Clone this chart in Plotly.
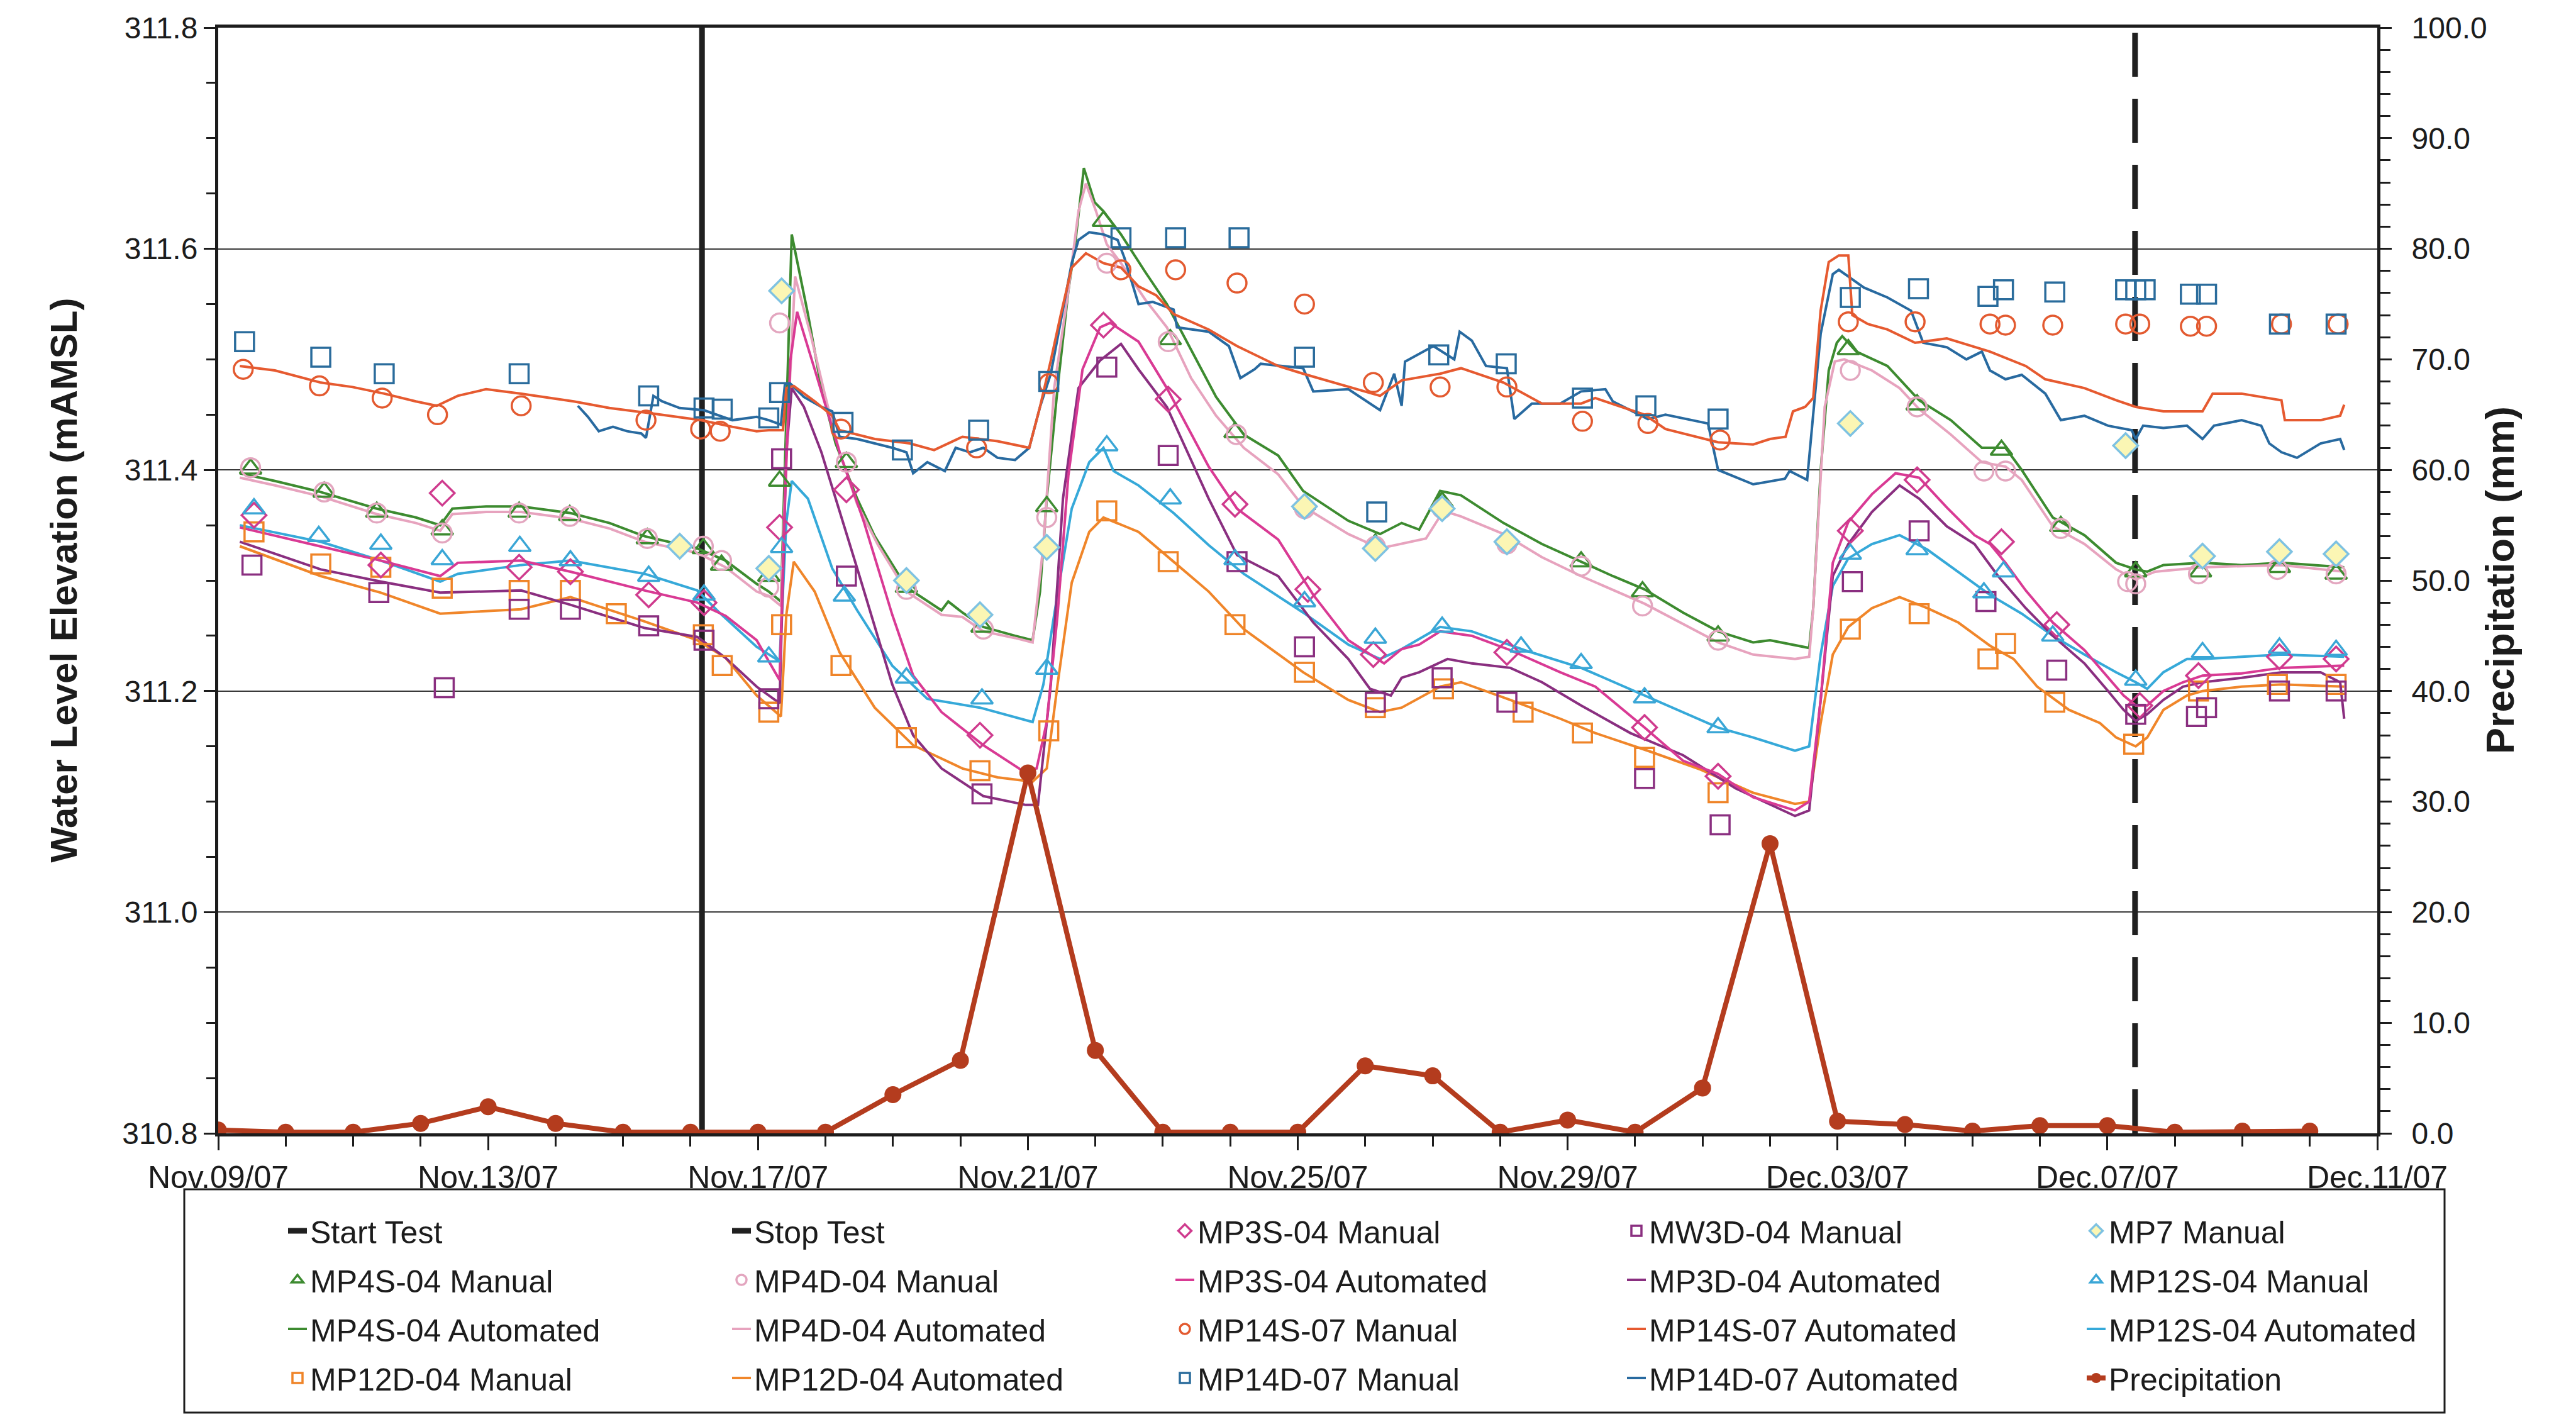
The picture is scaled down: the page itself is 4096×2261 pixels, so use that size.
import pandas as pd
import plotly.graph_objects as go

# ---------------------------------------------------------------------------
# Water level monitoring during the pumping test, Nov 9 - Dec 11, 2007
# Times are given as days after 2007-11-09 00:00.
# ---------------------------------------------------------------------------
BASE = pd.Timestamp("2007-11-09")

start_test_day = 7.17
stop_test_day = 28.41

# Daily precipitation (mm), Nov 09 .. Dec 10
precip_days = list(range(32))
precip_mm = [0.3, 0.1, 0.1, 0.9, 2.4, 0.9, 0.1, 0.1, 0.1, 0.1, 3.5, 6.6, 32.6, 7.5, 0.1, 0.1,
             0.1, 6.1, 5.2, 0.1, 1.2, 0.1, 4.1, 26.2, 1.1, 0.8, 0.2, 0.7, 0.7, 0.1, 0.2, 0.2]

# ---- automated (logger) records -------------------------------------------
mp4s_auto_days = [0.32, 0.84, 1.52, 2.35, 2.93, 3.29, 3.47, 3.97, 4.49, 5.22, 5.8, 6.32, 7.1, 7.52, 7.98,
                  8.16, 8.34, 8.42, 8.5, 8.74, 8.94, 9.15, 9.47, 9.73, 10.2, 10.72, 10.82, 11.03, 11.34, 11.81,
                  12.07, 12.18, 12.28, 12.44, 12.6, 12.7, 12.83, 12.99, 13.12, 13.38, 13.74, 14.06, 14.42, 14.79, 15.2,
                  15.71, 16.08, 16.75, 17.22, 17.54, 17.8, 18.11, 18.42, 19.05, 19.62, 20.2, 20.67, 21.14, 21.71, 22.23,
                  22.75, 23.0, 23.58, 23.64, 23.75, 23.87, 23.99, 24.07, 24.28, 24.74, 25.21, 25.68, 26.14, 26.49,
                  26.73, 27.19, 27.66, 28.13, 28.42, 28.59, 28.83, 29.41, 29.99, 30.58, 31.51]
mp4s_auto_elev = [311.397, 311.39, 311.38, 311.365, 311.357, 311.35, 311.365, 311.367, 311.367, 311.361, 311.352,
                  311.34, 311.329, 311.318, 311.297,
                  311.29, 311.281, 311.457, 311.613, 311.541, 311.474, 311.424, 311.374, 311.34, 311.294, 311.273,
                  311.281, 311.271, 311.258, 311.25, 311.246, 311.29, 311.374, 311.474, 311.562, 311.604, 311.673,
                  311.642, 311.634, 311.613, 311.579, 311.55, 311.508, 311.466, 311.432,
                  311.413, 311.381, 311.354, 311.342, 311.352, 311.346, 311.381, 311.377, 311.352, 311.333, 311.317,
                  311.304, 311.292, 311.271, 311.254, 311.244,
                  311.246, 311.239, 311.275, 311.399, 311.49, 311.515, 311.521, 311.507, 311.494, 311.463, 311.445,
                  311.42, 311.42, 311.4, 311.357, 311.341, 311.316, 311.31, 311.308, 311.314, 311.316, 311.314,
                  311.316, 311.312]

mp4d_auto_days = [0.32, 0.84, 1.52, 2.35, 2.93, 3.29, 3.47, 3.97, 4.49, 5.22, 5.8, 6.32, 7.1, 7.52, 7.98,
                  8.16, 8.34, 8.42, 8.55, 8.79, 9.0, 9.21, 9.47, 9.78, 10.2, 10.72, 11.03, 11.34, 11.81, 12.07,
                  12.23, 12.39, 12.6, 12.75, 12.86, 13.01, 13.17, 13.38, 13.74, 14.06, 14.42, 14.79, 15.2,
                  15.71, 16.08, 16.75, 17.22, 17.54, 17.9, 18.16, 18.42, 19.05, 19.62, 20.2, 21.14, 22.23, 22.75,
                  23.37, 23.58, 23.64, 23.72, 23.81, 23.96, 24.1, 24.51, 24.92, 25.21, 25.68, 26.14, 26.49, 26.73,
                  27.19, 27.66, 28.13, 28.42, 28.71, 29.41, 30.58, 31.51]
mp4d_auto_elev = [311.393, 311.386, 311.376, 311.36, 311.352, 311.345, 311.36, 311.362, 311.362, 311.356, 311.347,
                  311.335, 311.325, 311.312, 311.29,
                  311.286, 311.277, 311.416, 311.575, 311.52, 311.466, 311.416, 311.369, 311.332, 311.29, 311.269,
                  311.267, 311.254, 311.248, 311.244, 311.332, 311.474, 311.562, 311.634, 311.659, 311.634, 311.604,
                  311.587, 311.554, 311.529, 311.483, 311.449, 311.42,
                  311.396, 311.367, 311.342, 311.329, 311.333, 311.338, 311.363, 311.358, 311.342, 311.321, 311.304,
                  311.279, 311.244, 311.233, 311.229,
                  311.231, 311.275, 311.357, 311.457, 311.498, 311.5, 311.49, 311.474, 311.455, 311.432, 311.407,
                  311.403, 311.391, 311.349, 311.333, 311.31, 311.301, 311.308, 311.312, 311.314, 311.308]

mp3s_auto_days = [0.32, 1.52, 2.41, 3.29, 3.55, 4.49, 5.22, 6.32, 7.1, 7.52, 7.98,
                  8.32, 8.4, 8.48, 8.58, 8.84, 9.21, 9.57, 9.99, 10.3, 10.72, 11.34, 11.92, 12.13, 12.28, 12.44,
                  12.6, 12.81, 13.07, 13.22, 13.64, 14.06, 14.68, 15.1,
                  15.71, 16.23, 16.75, 17.28, 17.54, 17.8, 18.11, 18.58, 19.15, 19.89, 20.41, 21.14, 21.71, 22.23,
                  22.75, 23.37, 23.58, 23.75, 23.93, 24.16, 24.51, 24.86, 25.21, 25.62, 26.03, 26.26, 26.49, 26.79,
                  27.19, 27.66, 28.01, 28.24, 28.42, 28.59, 28.83, 29.12, 29.41, 29.99, 30.58, 31.51]
mp3s_auto_elev = [311.348, 311.331, 311.318, 311.304, 311.316, 311.318, 311.308, 311.291, 311.28, 311.268, 311.246,
                  311.21, 311.374, 311.499, 311.543, 311.491, 311.416, 311.353, 311.269, 311.214, 311.181, 311.151,
                  311.128, 311.13, 311.172, 311.269, 311.395, 311.491, 311.529, 311.533, 311.516, 311.474, 311.403,
                  311.365,
                  311.337, 311.287, 311.246, 311.225, 311.238, 311.242, 311.254, 311.25, 311.237, 311.217, 311.204,
                  311.167, 311.137, 311.125, 311.104, 311.092, 311.1, 311.192, 311.316, 311.353, 311.378, 311.397,
                  311.393, 311.366, 311.341, 311.333, 311.316, 311.291, 311.262, 311.237, 311.212, 311.196, 311.187,
                  311.187, 311.2, 311.208, 311.214, 311.216, 311.221, 311.223]

mp3d_auto_days = [0.32, 1.52, 2.41, 3.29, 4.49, 5.22, 6.32, 7.1, 7.52, 7.98,
                  8.32, 8.42, 8.5, 8.68, 8.94, 9.47, 9.99, 10.3, 10.72, 11.34, 11.97, 12.15, 12.34, 12.52, 12.75,
                  13.07, 13.38, 13.64, 14.06, 14.68, 15.1,
                  15.71, 16.23, 16.75, 17.07, 17.38, 17.54, 17.8, 18.22, 18.58, 19.15, 19.62, 20.2, 20.93, 21.71,
                  22.49, 23.37, 23.58, 23.75, 23.93, 24.16, 24.51, 24.92, 25.21, 25.62, 26.03, 26.38, 26.79, 27.19,
                  27.66, 28.01, 28.24, 28.42, 28.59, 28.83, 29.12, 29.41, 29.99, 30.58, 31.16, 31.45, 31.51]
mp3d_auto_elev = [311.335, 311.31, 311.299, 311.289, 311.291, 311.278, 311.257, 311.249, 311.23, 311.204,
                  311.189, 311.416, 311.474, 311.457, 311.416, 311.311, 311.206, 311.16, 311.13, 311.105, 311.097,
                  311.097, 311.206, 311.374, 311.474, 311.499, 311.514, 311.491, 311.457, 311.374, 311.323,
                  311.304, 311.262, 311.229, 311.202, 311.196, 311.212, 311.217, 311.229, 311.225, 311.221, 311.208,
                  311.187, 311.162, 311.142, 311.112, 311.087, 311.092, 311.192, 311.304, 311.333, 311.362, 311.386,
                  311.374, 311.349, 311.333, 311.304, 311.275, 311.25, 311.225, 311.2, 311.183, 311.173, 311.179,
                  311.192, 311.204, 311.208, 311.212, 311.217, 311.217, 311.208, 311.175]

mp12s_auto_days = [0.32, 1.52, 2.41, 3.29, 3.55, 4.49, 5.22, 6.32, 7.1, 7.41, 7.98,
                   8.32, 8.42, 8.5, 8.74, 9.1, 9.47, 9.99, 10.51, 11.29, 12.07, 12.23, 12.39, 12.65, 12.91, 13.12,
                   13.27, 13.64, 14.16, 14.68, 15.2,
                   16.08, 16.75, 17.22, 17.54, 18.11, 18.58, 19.36, 20.2, 21.14, 22.23, 22.75, 23.37,
                   23.58, 23.75, 23.93, 24.16, 24.51, 24.92, 25.33, 25.79, 26.26, 26.73, 27.19, 27.66, 28.13, 28.42,
                   28.59, 28.83, 29.18, 29.41, 29.99, 30.58, 31.51]
mp12s_auto_elev = [311.35, 311.335, 311.318, 311.299, 311.306, 311.314, 311.318, 311.306, 311.291, 311.272, 311.24,
                   311.227, 311.353, 311.39, 311.374, 311.311, 311.273, 311.223, 311.193, 311.185, 311.172, 311.206,
                   311.269, 311.365, 311.407, 311.42, 311.399, 311.386, 311.361, 311.332, 311.306,
                   311.271, 311.242, 311.229, 311.238, 311.258, 311.254, 311.237, 311.221, 311.196, 311.167, 311.158,
                   311.146,
                   311.15, 311.233, 311.295, 311.32, 311.333, 311.341, 311.328, 311.308, 311.287, 311.27, 311.25,
                   311.233, 311.217, 311.208, 311.202, 311.217, 311.229, 311.229, 311.231, 311.233, 311.231]

mp12d_auto_days = [0.32, 1.52, 2.41, 3.29, 4.49, 5.22, 6.32, 7.1, 7.52, 7.98,
                   8.34, 8.42, 8.53, 8.84, 9.21, 9.73, 10.3, 11.03, 11.55, 12.07, 12.28, 12.44, 12.65, 12.91, 13.12,
                   13.64, 14.16, 14.68, 15.2,
                   15.71, 16.08, 16.75, 17.22, 17.54, 18.11, 18.42, 19.15, 19.89, 20.41, 21.19, 21.97, 22.75, 23.37,
                   23.58, 23.75, 23.93, 24.16, 24.51, 24.92, 25.33, 25.79, 26.26, 26.61, 26.96, 27.43, 27.89, 28.13,
                   28.42, 28.59, 28.83, 29.18, 29.41, 29.99, 30.58, 31.51]
mp12d_auto_elev = [311.331, 311.304, 311.289, 311.27, 311.274, 311.285, 311.263, 311.246, 311.23, 311.196,
                   311.177, 311.269, 311.317, 311.29, 311.235, 311.185, 311.151, 311.13, 311.122, 311.118, 311.13,
                   311.206, 311.298, 311.344, 311.357, 311.344, 311.317, 311.29, 311.256,
                   311.233, 311.217, 311.192, 311.181, 311.185, 311.204, 311.208, 311.192, 311.175, 311.162, 311.146,
                   311.129, 311.108, 311.098,
                   311.1, 311.171, 311.233, 311.258, 311.275, 311.285, 311.275, 311.262, 311.241, 311.229, 311.204,
                   311.183, 311.171, 311.158, 311.15, 311.158, 311.183, 311.196, 311.2, 311.204, 311.206, 311.204]

mp14s_auto_days = [0.32, 0.84, 1.52, 1.99, 2.46, 2.93, 3.24, 3.55, 3.97, 4.49, 5.27, 5.8, 6.32, 7.15, 7.62, 7.98,
                   8.16, 8.37, 8.42, 8.53, 8.84, 9.1, 9.21, 9.73, 10.25, 10.61, 11.03, 11.55, 12.02, 12.18, 12.34,
                   12.49, 12.65, 12.86, 13.12, 13.38, 13.64, 13.9, 14.16, 14.68, 15.1,
                   15.71, 16.08, 16.75, 17.22, 17.54, 18.11, 18.42, 19.05, 19.62, 20.2, 20.41, 21.14, 21.45, 22.23,
                   22.75, 23.0, 23.23, 23.34, 23.52, 23.64, 23.75, 23.87, 24.02, 24.16, 24.22, 24.45, 24.74, 25.15,
                   25.62, 26.26, 26.79, 27.08, 27.66, 28.13, 28.42, 28.83, 29.41, 29.56, 29.99, 30.58, 30.63, 31.16,
                   31.45, 31.51]
mp14s_auto_elev = [311.494, 311.49, 311.479, 311.475, 311.469, 311.462, 311.458, 311.467, 311.473, 311.469,
                   311.462, 311.456, 311.452, 311.445, 311.439, 311.435,
                   311.436, 311.436, 311.474, 311.476, 311.462, 311.449, 311.436, 311.428, 311.424, 311.418, 311.43,
                   311.426, 311.42, 311.457, 311.499, 311.541, 311.583, 311.596, 311.587, 311.583, 311.566, 311.558,
                   311.541, 311.527, 311.512,
                   311.494, 311.487, 311.475, 311.467, 311.481, 311.487, 311.492, 311.479, 311.46, 311.46, 311.465,
                   311.45, 311.437, 311.425, 311.423, 311.428, 311.43, 311.453, 311.457, 311.465, 311.544, 311.588,
                   311.594, 311.594, 311.54, 311.532, 311.527, 311.515, 311.519, 311.507, 311.494, 311.482, 311.474,
                   311.463, 311.457, 311.453, 311.453, 311.469, 311.469, 311.463, 311.445, 311.445, 311.449, 311.459]

mp14d_auto_days = [5.33, 5.48, 5.64, 5.85, 6.06, 6.27, 6.34, 6.45, 6.58, 6.84, 7.2, 7.62, 7.98,
                   8.16, 8.34, 8.4, 8.48, 8.68, 8.94, 9.1, 9.21, 9.47, 9.99, 10.2, 10.3, 10.51, 10.77, 10.93, 11.14,
                   11.34, 11.55, 11.81, 12.02, 12.18, 12.34, 12.54, 12.65, 12.75, 12.91, 13.12, 13.33, 13.43, 13.64,
                   13.85, 14.16, 14.21, 14.68, 14.98, 15.15, 15.36,
                   15.45, 16.08, 16.23, 16.75, 17.22, 17.43, 17.54, 17.59, 18.01, 18.32, 18.4, 18.58, 18.79, 19.1,
                   19.21, 19.47, 19.89, 20.2, 20.56, 20.67, 21.19, 21.45, 22.08, 22.23, 22.75, 23.22,
                   23.29, 23.55, 23.64, 23.75, 23.93, 24.02, 24.16, 24.39, 24.74, 25.09, 25.27, 25.62, 25.91, 26.14,
                   26.26, 26.49, 26.73, 27.08, 27.31, 27.66, 28.01, 28.36, 28.42, 28.53, 28.83, 29.18, 29.41, 29.58,
                   29.99, 30.28, 30.4, 30.58, 30.81, 31.16, 31.45, 31.51]
mp14d_auto_elev = [311.458, 311.448, 311.435, 311.439, 311.435, 311.433, 311.429, 311.467, 311.462, 311.456,
                   311.454, 311.445, 311.448,
                   311.445, 311.441, 311.478, 311.478, 311.466, 311.457, 311.453, 311.43, 311.428, 311.42, 311.416,
                   311.397, 311.407, 311.399, 311.42, 311.416, 311.42, 311.411, 311.409, 311.42, 311.457, 311.487,
                   311.55, 311.587, 311.608, 311.615, 311.613, 311.608, 311.592, 311.55, 311.552, 311.545, 311.529,
                   311.525, 311.512, 311.483, 311.491,
                   311.496, 311.492, 311.471, 311.473, 311.454, 311.487, 311.458, 311.498, 311.512, 311.5, 311.525,
                   311.517, 311.494, 311.492, 311.446, 311.46, 311.46, 311.471, 311.473, 311.462, 311.446, 311.45,
                   311.442, 311.4, 311.387, 311.392,
                   311.399, 311.391, 311.449, 311.523, 311.577, 311.581, 311.575, 311.565, 311.556, 311.544, 311.515,
                   311.511, 311.5, 311.507, 311.49, 311.482, 311.486, 311.469, 311.445, 311.449, 311.44, 311.436,
                   311.428, 311.44, 311.438, 311.44, 311.428, 311.44, 311.445, 311.44, 311.424, 311.416, 311.411,
                   311.424, 311.428, 311.418]

# ---- manual (dip-meter) readings --------------------------------------------
mp4s_man_days = [0.48, 1.57, 2.35, 3.32, 4.46, 5.21, 6.36, 7.19, 7.46, 8.16, 8.32, 9.31, 10.2, 11.32, 12.28,
                 13.12, 14.11, 15.07, 16.1, 17.15, 18.14, 19.1, 20.2, 21.11, 22.23, 24.16, 25.18, 26.43, 27.31,
                 28.42, 29.38, 30.55, 31.39]
mp4s_man_elev = [311.401, 311.38, 311.362, 311.346, 311.362, 311.359, 311.338, 311.329, 311.314, 311.304, 311.39,
                 311.407, 311.294, 311.258, 311.367, 311.625, 311.518, 311.434, 311.369, 311.333, 311.371, 311.337,
                 311.317, 311.29, 311.25, 311.509, 311.459, 311.418, 311.349, 311.308, 311.308, 311.312, 311.306]

mp4d_man_days = [0.48, 1.57, 2.35, 3.32, 4.46, 5.21, 6.36, 7.19, 7.46, 8.16, 8.32, 9.31, 10.2, 11.34, 12.28,
                 13.17, 14.08, 15.09, 16.1, 17.15, 18.14, 19.1, 20.2, 21.11, 22.23, 24.19, 25.18, 26.17, 26.49,
                 27.31, 28.3, 28.42, 29.35, 30.52, 31.39]
mp4d_man_elev = [311.402, 311.38, 311.361, 311.343, 311.361, 311.358, 311.338, 311.331, 311.318, 311.294, 311.533,
                 311.407, 311.292, 311.256, 311.357, 311.587, 311.516, 311.432, 311.365, 311.331, 311.365, 311.333,
                 311.313, 311.277, 311.246, 311.49, 311.457, 311.399, 311.399, 311.347, 311.299, 311.297, 311.306,
                 311.31, 311.306]

mp12d_man_days = [0.53, 1.52, 2.41, 3.32, 4.46, 5.22, 5.9, 7.19, 7.47, 8.16, 8.35, 9.23, 10.2, 11.29, 12.31,
                  13.17, 14.08, 15.07, 16.1, 17.15, 18.16, 19.34, 20.22, 21.14, 22.23, 24.19, 25.21, 26.23, 26.49,
                  27.22, 28.39, 29.35, 30.52, 31.39]
mp12d_man_elev = [311.344, 311.315, 311.312, 311.293, 311.291, 311.291, 311.27, 311.251, 311.223, 311.181, 311.26,
                  311.223, 311.158, 311.128, 311.164, 311.363, 311.317, 311.26, 311.217, 311.185, 311.202, 311.181,
                  311.162, 311.14, 311.108, 311.256, 311.27, 311.229, 311.243, 311.19, 311.152, 311.2, 311.206,
                  311.206]

mp3s_man_days = [0.53, 2.41, 3.32, 4.46, 5.22, 6.38, 7.2, 8.32, 9.31, 11.29, 13.12, 14.08, 15.07, 16.15, 17.12,
                 19.1, 21.14, 22.23, 24.19, 25.18, 26.43, 27.25, 28.48, 29.35, 30.55, 31.39]
mp3s_man_elev = [311.359, 311.314, 311.379, 311.312, 311.308, 311.287, 311.28, 311.348, 311.382, 311.16, 311.531,
                 311.464, 311.369, 311.292, 311.233, 311.235, 311.167, 311.123, 311.345, 311.391, 311.335, 311.26,
                 311.187, 311.214, 311.231, 311.229]

mp14s_man_days = [0.37, 1.5, 2.43, 3.25, 4.49, 6.34, 7.15, 7.44, 9.23, 11.24, 12.31, 13.38, 14.19, 15.1, 16.1,
                  17.12, 18.11, 19.1, 20.22, 21.19, 22.26, 24.16, 25.15, 26.26, 26.49, 27.19, 28.27, 28.48, 29.23,
                  29.47, 30.58, 31.42]
mp14s_man_elev = [311.491, 311.476, 311.465, 311.45, 311.458, 311.445, 311.437, 311.435, 311.437, 311.42, 311.478,
                  311.581, 311.581, 311.569, 311.55, 311.479, 311.475, 311.475, 311.444, 311.442, 311.427, 311.534,
                  311.534, 311.532, 311.531, 311.531, 311.532, 311.532, 311.53, 311.53, 311.532, 311.532]

mp14d_man_days = [0.39, 1.52, 2.46, 4.46, 6.38, 7.2, 7.47, 8.16, 8.32, 9.26, 10.14, 11.27, 12.31, 13.38, 14.19,
                  15.13, 16.1, 17.17, 18.09, 19.09, 20.22, 21.16, 22.23, 24.19, 25.2, 26.23, 26.46, 27.22, 28.27,
                  28.42, 28.56, 29.23, 29.47, 30.55, 31.39]
mp14d_man_elev = [311.516, 311.502, 311.487, 311.487, 311.467, 311.456, 311.455, 311.447, 311.47, 311.443, 311.418,
                  311.436, 311.48, 311.61, 311.61, 311.61, 311.502, 311.362, 311.504, 311.496, 311.465, 311.458,
                  311.446, 311.556, 311.564, 311.557, 311.563, 311.561, 311.563, 311.563, 311.563, 311.559, 311.559,
                  311.532, 311.532]

mw3d_man_days = [0.5, 2.38, 3.35, 4.46, 5.22, 6.38, 7.2, 8.16, 8.35, 9.31, 11.32, 13.17, 14.08, 15.1, 16.1,
                 17.15, 18.14, 19.1, 21.14, 22.26, 24.22, 25.21, 26.2, 27.25, 28.42, 29.32, 29.47, 30.55, 31.39]
mw3d_man_elev = [311.314, 311.289, 311.203, 311.274, 311.274, 311.259, 311.246, 311.193, 311.41, 311.304, 311.107,
                 311.493, 311.413, 311.317, 311.24, 311.19, 311.212, 311.19, 311.121, 311.079, 311.299, 311.345,
                 311.281, 311.219, 311.179, 311.177, 311.185, 311.2, 311.2]

mp7_man_days = [6.84, 8.16, 8.35, 10.2, 11.29, 12.28, 16.1, 17.15, 18.14, 19.1, 24.19, 28.27, 29.41, 30.55, 31.39]
mp7_man_elev = [311.331, 311.311, 311.562, 311.3, 311.269, 311.33, 311.367, 311.329, 311.365, 311.335, 311.442,
                311.422, 311.322, 311.326, 311.324]

mp12s_man_days = [0.53, 1.49, 2.41, 3.32, 4.47, 5.22, 6.38, 7.2, 8.16, 8.35, 9.28, 10.2, 11.32, 12.28, 13.17,
                  14.11, 15.07, 16.1, 17.15, 18.14, 19.31, 20.2, 21.14, 22.23, 24.19, 25.18, 26.17, 26.46, 27.19,
                  28.42, 29.41, 30.55, 31.39]
mp12s_man_elev = [311.365, 311.34, 311.333, 311.319, 311.331, 311.318, 311.304, 311.287, 311.231, 311.33, 311.286,
                  311.212, 311.193, 311.22, 311.422, 311.374, 311.319, 311.281, 311.248, 311.258, 311.24, 311.225,
                  311.194, 311.167, 311.324, 311.328, 311.289, 311.308, 311.25, 311.21, 311.235, 311.239, 311.237]

ELEV_RANGE = [310.8, 311.8]
PRECIP_RANGE = [0, 100]

FONT = "Liberation Sans, Arial, sans-serif"
INK = "#1c1c1c"

# figure geometry (px)
W, H = 4096, 2261
PLOT_L, PLOT_R, PLOT_T, PLOT_B = 347, 3780, 44, 1802
PW, PH = PLOT_R - PLOT_L, PLOT_B - PLOT_T


def px_x(px):
    return (px - PLOT_L) / PW


def px_y(py):
    return (PLOT_B - py) / PH


def when(days):
    return BASE + pd.to_timedelta(pd.Series(days, dtype=float), unit="D")


fig = go.Figure()

# legend column of each entry (five columns, four rows)
COLUMN = {
    "Start Test": "legend", "MP4S-04 Manual": "legend", "MP4S-04 Automated": "legend",
    "MP12D-04 Manual": "legend",
    "Stop Test": "legend2", "MP4D-04 Manual": "legend2", "MP4D-04 Automated": "legend2",
    "MP12D-04 Automated": "legend2",
    "MP3S-04 Manual": "legend3", "MP3S-04 Automated": "legend3", "MP14S-07 Manual": "legend3",
    "MP14D-07 Manual": "legend3",
    "MW3D-04 Manual": "legend4", "MP3D-04 Automated": "legend4", "MP14S-07 Automated": "legend4",
    "MP14D-07 Automated": "legend4",
    "MP7 Manual": "legend5", "MP12S-04 Manual": "legend5", "MP12S-04 Automated": "legend5",
    "Precipitation": "legend5",
}
ORDER = ["Start Test", "Stop Test", "MP3S-04 Manual", "MW3D-04 Manual", "MP7 Manual",
         "MP4S-04 Manual", "MP4D-04 Manual", "MP3S-04 Automated", "MP3D-04 Automated", "MP12S-04 Manual",
         "MP4S-04 Automated", "MP4D-04 Automated", "MP14S-07 Manual", "MP14S-07 Automated",
         "MP12S-04 Automated",
         "MP12D-04 Manual", "MP12D-04 Automated", "MP14D-07 Manual", "MP14D-07 Automated", "Precipitation"]


def entry(name):
    return dict(name=name, legend=COLUMN[name], legendgroup=name,
                legendrank=ORDER.index(name) + 1)


# Test start / stop markers
fig.add_trace(go.Scatter(
    x=when([start_test_day, start_test_day]), y=ELEV_RANGE, mode="lines",
    line=dict(color="#202020", width=9), **entry("Start Test")))
fig.add_trace(go.Scatter(
    x=when([stop_test_day, stop_test_day]), y=ELEV_RANGE, mode="lines",
    line=dict(color="#202020", width=9, dash="70px,35px"), **entry("Stop Test")))

# Automated records
auto_series = [
    ("MP4S-04 Automated", mp4s_auto_days, mp4s_auto_elev, "#3d8b30"),
    ("MP4D-04 Automated", mp4d_auto_days, mp4d_auto_elev, "#e7a3be"),
    ("MP12D-04 Automated", mp12d_auto_days, mp12d_auto_elev, "#f0862a"),
    ("MP12S-04 Automated", mp12s_auto_days, mp12s_auto_elev, "#36a9d9"),
    ("MP3D-04 Automated", mp3d_auto_days, mp3d_auto_elev, "#8a2f80"),
    ("MP3S-04 Automated", mp3s_auto_days, mp3s_auto_elev, "#d93a94"),
    ("MP14D-07 Automated", mp14d_auto_days, mp14d_auto_elev, "#286aa0"),
    ("MP14S-07 Automated", mp14s_auto_days, mp14s_auto_elev, "#e65a30"),
]
for name, d, v, color in auto_series:
    fig.add_trace(go.Scatter(x=when(d), y=v, mode="lines",
                             line=dict(color=color, width=4), **entry(name)))

# Manual readings
MS = 30
manual_series = [
    ("MP4S-04 Manual", mp4s_man_days, mp4s_man_elev, "triangle-up-open", "#3d8b30", None),
    ("MP4D-04 Manual", mp4d_man_days, mp4d_man_elev, "circle-open", "#e3a6bf", None),
    ("MP12D-04 Manual", mp12d_man_days, mp12d_man_elev, "square-open", "#ef8428", None),
    ("MP3S-04 Manual", mp3s_man_days, mp3s_man_elev, "diamond-open", "#cf3b8e", None),
    ("MP14S-07 Manual", mp14s_man_days, mp14s_man_elev, "circle-open", "#e35a30", None),
    ("MP14D-07 Manual", mp14d_man_days, mp14d_man_elev, "square-open", "#2a6c9c", None),
    ("MW3D-04 Manual", mw3d_man_days, mw3d_man_elev, "square-open", "#8a2f80", None),
    ("MP7 Manual", mp7_man_days, mp7_man_elev, "diamond", "#7ec2e2", "#fbf6b4"),
    ("MP12S-04 Manual", mp12s_man_days, mp12s_man_elev, "triangle-up-open", "#3aa6d6", None),
]
for name, d, v, symbol, color, fill in manual_series:
    marker = dict(symbol=symbol, size=MS, color=fill if fill else color,
                  line=dict(color=color, width=3.5))
    fig.add_trace(go.Scatter(x=when(d), y=v, mode="markers", marker=marker, **entry(name)))

# Precipitation on the secondary axis
fig.add_trace(go.Scatter(
    x=when(precip_days), y=precip_mm, mode="lines+markers", yaxis="y2",
    line=dict(color="#b43c1e", width=8),
    marker=dict(symbol="circle", size=27, color="#b43c1e"), **entry("Precipitation")))

axis_font = dict(family=FONT, size=48, color=INK)
x_font = dict(family=FONT, size=50, color=INK)

# five legend columns inside one framed box
LEG_TEXT_X = [496, 1202, 1907, 2625, 3356]
LEG_TOP = 1918
legend_common = dict(
    orientation="v", yanchor="top", xanchor="left",
    bgcolor="rgba(0,0,0,0)", borderwidth=0,
    font=dict(family=FONT, size=50, color=INK),
    itemwidth=30, traceorder="grouped", tracegroupgap=10,
)
legends = {}
for i, tx in enumerate(LEG_TEXT_X):
    key = "legend" if i == 0 else f"legend{i + 1}"
    legends[key] = dict(legend_common, x=px_x(tx - 43), y=px_y(LEG_TOP))

fig.update_layout(
    width=W, height=H,
    margin=dict(l=PLOT_L, r=W - PLOT_R, t=PLOT_T, b=H - PLOT_B),
    paper_bgcolor="white", plot_bgcolor="white",
    font=dict(family=FONT, color=INK),
    showlegend=True,
    xaxis=dict(
        type="date",
        range=[BASE, BASE + pd.Timedelta(days=32)],
        tick0=BASE, dtick=4 * 86400000, tickformat="%b.%d/%y",
        ticks="outside", ticklen=22, tickwidth=3, tickcolor=INK,
        minor=dict(dtick=86400000, ticks="outside", ticklen=16, tickwidth=3, tickcolor=INK),
        showline=True, linecolor=INK, linewidth=5, mirror=True,
        showgrid=False, zeroline=False, tickfont=x_font,
    ),
    yaxis=dict(
        range=ELEV_RANGE, dtick=0.2, tick0=310.8, tickformat=".1f",
        ticks="outside", ticklen=18, tickwidth=3, tickcolor=INK,
        minor=dict(dtick=0.05, ticks="outside", ticklen=14, tickwidth=3, tickcolor=INK),
        showline=True, linecolor=INK, linewidth=5,
        showgrid=True, gridcolor="#3a3a3a", gridwidth=2, zeroline=False,
        tickfont=axis_font,
    ),
    yaxis2=dict(
        range=PRECIP_RANGE, dtick=10, tickformat=".1f", overlaying="y", side="right",
        anchor="x", ticks="outside", ticklen=18, tickwidth=3, tickcolor=INK,
        minor=dict(dtick=2, ticks="outside", ticklen=16, tickwidth=3, tickcolor=INK),
        showline=True, linecolor=INK, linewidth=5, showgrid=False, zeroline=False,
        tickfont=axis_font, ticklabelstandoff=22,
    ),
    # inner half of the crossing major ticks on the precipitation axis
    yaxis3=dict(
        range=PRECIP_RANGE, dtick=10, overlaying="y", side="right", anchor="x",
        ticks="inside", ticklen=18, tickwidth=3, tickcolor=INK,
        showticklabels=False, showline=False, showgrid=False, zeroline=False,
    ),
    shapes=[
        dict(type="rect", xref="paper", yref="paper",
             x0=px_x(293), x1=px_x(3887), y0=px_y(2246), y1=px_y(1891),
             line=dict(color=INK, width=3), fillcolor="rgba(0,0,0,0)", layer="below"),
    ],
    annotations=[
        dict(text="Water Level Elevation (mAMSL)", xref="paper", yref="paper",
             x=px_x(65), y=0.5, textangle=-90, showarrow=False,
             font=dict(family=FONT, size=60, color=INK, weight="bold")),
        dict(text="Precipitation (mm)", xref="paper", yref="paper",
             x=px_x(4012), y=0.5, textangle=-90, showarrow=False,
             font=dict(family=FONT, size=63, color=INK, weight="bold")),
    ],
    **legends,
)

fig.write_html("out.html")
